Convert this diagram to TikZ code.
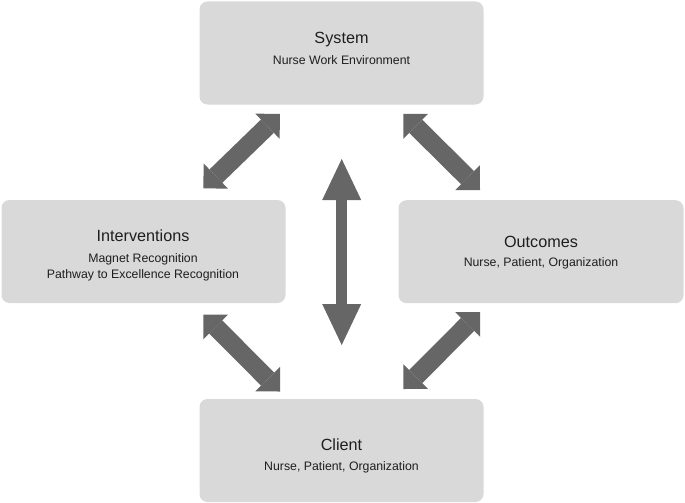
\documentclass[tikz,border=0pt]{standalone}
\usepackage{fontspec}
\setmainfont{Liberation Sans}
\usetikzlibrary{arrows.meta}
\definecolor{boxGray}{RGB}{217,217,217}
\definecolor{arrowGray}{RGB}{102,102,102}
\definecolor{textDark}{RGB}{30,30,30}

\begin{document}
\begin{tikzpicture}[x=1pt, y=-1pt,
    box/.style={fill=boxGray, rounded corners=8pt, minimum width=284pt, minimum height=103pt, inner sep=0pt},
    ttl/.style={anchor=base, text=textDark, inner sep=0pt, font=\fontsize{16.2}{19}\selectfont},
    sub/.style={anchor=base, text=textDark, inner sep=0pt, font=\fontsize{12.3}{15}\selectfont},
    dblarrow/.style={arrowGray, line width=18.5pt, {Triangle[width=35pt,length=17.5pt,line width=0pt]}-{Triangle[width=35pt,length=17.5pt,line width=0pt]}},
    midarrow/.style={arrowGray, line width=11pt, {Triangle[width=39pt,length=41pt,line width=0pt]}-{Triangle[width=39pt,length=41pt,line width=0pt]}}]
    \useasboundingbox (0,0) rectangle (685,503);

    % Boxes
    \node[box] at (341.5,53) (sys) {};
    \node[box] at (143.5,251.5) (int) {};
    \node[box, minimum width=285pt] at (541,251.7) (out) {};
    \node[box] at (341.5,450.5) (cli) {};

    % Texts
    \node[ttl] at (341.5,44) (sysTitle) {System};
    \node[sub] at (341.5,64) (sysSub) {Nurse Work Environment};
    \node[ttl] at (143,241) (intTitle) {Interventions};
    \node[sub] at (143,262.7) (intSubA) {Magnet Recognition};
    \node[sub] at (143,278) (intSubB) {Pathway to Excellence Recognition};
    \node[ttl] at (541,247.7) (outTitle) {Outcomes};
    \node[sub] at (541,266.7) (outSub) {Nurse, Patient, Organization};
    \node[ttl] at (341.5,450.7) (cliTitle) {Client};
    \node[sub] at (341.5,470) (cliSub) {Nurse, Patient, Organization};

    % Arrow ends
    \coordinate (sysL) at (280,114);
    \coordinate (intT) at (203.3,188.3);
    \coordinate (sysR) at (403.3,114);
    \coordinate (outT) at (480,190);
    \coordinate (intB) at (203.3,314.5);
    \coordinate (cliL) at (280,391.5);
    \coordinate (outB) at (480,312);
    \coordinate (cliR) at (403.3,389);
    \coordinate (midT) at (341.7,159);
    \coordinate (midB) at (341.7,345);

    % Arrows
    \draw[dblarrow] (sysL) -- (intT);
    \draw[dblarrow] (sysR) -- (outT);
    \draw[dblarrow] (intB) -- (cliL);
    \draw[dblarrow] (outB) -- (cliR);
    \draw[midarrow] (midT) -- (midB);
\end{tikzpicture}
\end{document}
